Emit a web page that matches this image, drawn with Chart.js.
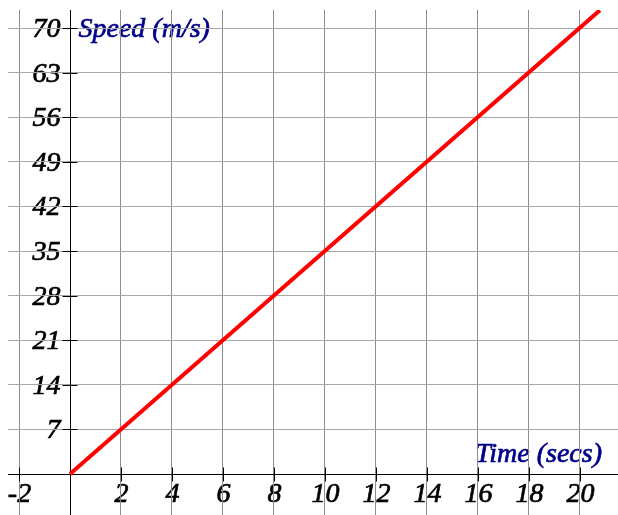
<!DOCTYPE html>
<html>
<head>
<meta charset="utf-8">
<script src="https://cdn.jsdelivr.net/npm/chart.js@4"></script>
<style>
  html, body { margin: 0; padding: 0; background: #fff; }
  #wrap { width: 618px; height: 515px; position: relative; }
</style>
</head>
<body>
<div id="wrap"><canvas id="chart"></canvas></div>
<script>
// dados do gráfico
const timeValues = [0, 20.8];
const speedValues = [0, 72.8];
const xTickValues = [-2, 0, 2, 4, 6, 8, 10, 12, 14, 16, 18, 20];
const yTickValues = [-7, 0, 7, 14, 21, 28, 35, 42, 49, 56, 63, 70];
const xLabel = "Time (secs)";
const yLabel = "Speed (m/s)";

const labelFont = 'italic 28px "Liberation Serif", "DejaVu Serif", serif';
const titleFont = 'italic 28px "Liberation Serif", "DejaVu Serif", serif';

// texto com traço leve para ficar um pouco mais grosso
function boldText(ctx, txt, x, y) {
    ctx.fillText(txt, x, y);
    ctx.strokeText(txt, x, y);
}

// textos (por baixo da grade, como no original)
const textPlugin = {
    id: 'textPlugin',
    beforeDraw(chart) {
        const ctx = chart.ctx;
        const xs = chart.scales.x;
        const ys = chart.scales.y;
        const area = chart.chartArea;
        const x0 = Math.round(xs.getPixelForValue(0)) + 0.5;
        const y0 = Math.round(ys.getPixelForValue(0)) + 0.5;

        ctx.save();
        ctx.fillStyle = '#000';
        ctx.strokeStyle = '#000';
        ctx.lineWidth = 0.7;
        ctx.font = labelFont;
        ctx.textAlign = 'center';
        ctx.textBaseline = 'middle';
        xs.ticks.forEach(t => {
            if (t.value === 0) return;
            const px = Math.round(xs.getPixelForValue(t.value)) + 0.5;
            boldText(ctx, String(t.value), px, y0 + 20);
        });
        ctx.textAlign = 'right';
        ys.ticks.forEach(t => {
            if (t.value <= 0) return;
            const py = Math.round(ys.getPixelForValue(t.value)) + 0.5;
            boldText(ctx, String(t.value), x0 - 10, py + 1);
        });

        // títulos dos eixos
        ctx.fillStyle = '#00008b';
        ctx.strokeStyle = '#00008b';
        ctx.font = titleFont;
        ctx.textBaseline = 'alphabetic';
        ctx.textAlign = 'left';
        boldText(ctx, yLabel, x0 + 8, ys.getPixelForValue(70) + 9);
        ctx.textAlign = 'right';
        boldText(ctx, xLabel, area.right - 16, y0 - 13);
        ctx.restore();
    }
};

// eixos no meio do gráfico
const axesPlugin = {
    id: 'axesPlugin',
    beforeDatasetsDraw(chart) {
        const ctx = chart.ctx;
        const xs = chart.scales.x;
        const ys = chart.scales.y;
        const area = chart.chartArea;
        const x0 = Math.round(xs.getPixelForValue(0)) + 0.5;
        const y0 = Math.round(ys.getPixelForValue(0)) + 0.5;

        ctx.save();
        ctx.strokeStyle = '#000';
        ctx.lineWidth = 1;
        ctx.beginPath();
        ctx.moveTo(area.left, y0);
        ctx.lineTo(area.right, y0);
        ctx.moveTo(x0, area.top);
        ctx.lineTo(x0, area.bottom);
        xs.ticks.forEach(t => {
            if (t.value === 0) return;
            const px = Math.round(xs.getPixelForValue(t.value)) + 0.5;
            ctx.moveTo(px, y0 - 7);
            ctx.lineTo(px, y0 + 7);
        });
        ys.ticks.forEach(t => {
            if (t.value <= 0) return;
            const py = Math.round(ys.getPixelForValue(t.value)) + 0.5;
            ctx.moveTo(x0 - 8, py);
            ctx.lineTo(x0 + 7, py);
        });
        ctx.stroke();
        ctx.restore();
    }
};

new Chart(document.getElementById('chart'), {
    type: 'scatter',
    data: {
        datasets: [{
            data: timeValues.map((t, i) => ({ x: t, y: speedValues[i] })),
            showLine: true,
            borderColor: '#ff0000',
            backgroundColor: '#ff0000',
            borderWidth: 4,
            pointRadius: 0
        }]
    },
    options: {
        responsive: true,
        maintainAspectRatio: false,
        animation: false,
        layout: { padding: { left: 8, top: 10, right: 0, bottom: 0 } },
        plugins: {
            legend: { display: false },
            tooltip: { enabled: false }
        },
        scales: {
            x: {
                type: 'linear',
                min: -2.434,
                max: 21.51,
                afterBuildTicks: s => { s.ticks = xTickValues.map(v => ({ value: v })); },
                ticks: { display: false },
                grid: { color: '#8c8c8c', lineWidth: 1, drawTicks: false },
                border: { display: false }
            },
            y: {
                type: 'linear',
                min: -6.435,
                max: 72.83,
                afterBuildTicks: s => { s.ticks = yTickValues.map(v => ({ value: v })); },
                ticks: { display: false },
                grid: { color: '#a6a6a6', lineWidth: 1, drawTicks: false },
                border: { display: false }
            }
        }
    },
    plugins: [textPlugin, axesPlugin]
});
</script>
</body>
</html>
